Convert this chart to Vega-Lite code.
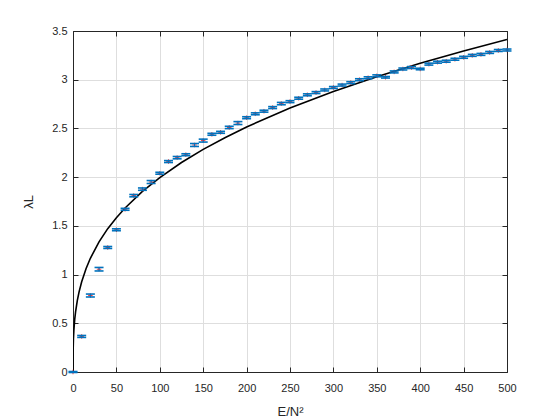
{
  "$schema": "https://vega.github.io/schema/vega-lite/v6.json",
  "width": 434,
  "height": 341,
  "autosize": {"type": "none"},
  "padding": {"left": 73, "top": 31, "right": 53, "bottom": 48},
  "background": "white",
  "datasets": {
    "curve": [
      {"x": 0, "y": 0}, {"x": 0.1, "y": 0.2}, {"x": 0.5, "y": 0.341}, {"x": 1, "y": 0.43}, {"x": 2, "y": 0.542},
      {"x": 3, "y": 0.62}, {"x": 5, "y": 0.735}, {"x": 7, "y": 0.823}, {"x": 10, "y": 0.926},
      {"x": 15, "y": 1.06}, {"x": 20, "y": 1.167}, {"x": 30, "y": 1.336}, {"x": 40, "y": 1.471},
      {"x": 50, "y": 1.584}, {"x": 60, "y": 1.683}, {"x": 80, "y": 1.853}, {"x": 100, "y": 1.996},
      {"x": 125, "y": 2.15}, {"x": 150, "y": 2.285}, {"x": 175, "y": 2.405}, {"x": 200, "y": 2.515},
      {"x": 250, "y": 2.709}, {"x": 300, "y": 2.879}, {"x": 350, "y": 3.03}, {"x": 400, "y": 3.168},
      {"x": 450, "y": 3.295}, {"x": 500, "y": 3.413}
    ],
    "pts": [
      {"x": 0, "y": 0, "e": 0.005}, {"x": 10, "y": 0.365, "e": 0.01}, {"x": 20, "y": 0.785, "e": 0.015},
      {"x": 30, "y": 1.055, "e": 0.018}, {"x": 40, "y": 1.278, "e": 0.01}, {"x": 50, "y": 1.46, "e": 0.01},
      {"x": 60, "y": 1.67, "e": 0.01}, {"x": 70, "y": 1.81, "e": 0.012}, {"x": 80, "y": 1.877, "e": 0.012},
      {"x": 90, "y": 1.95, "e": 0.015}, {"x": 100, "y": 2.04, "e": 0.01}, {"x": 110, "y": 2.16, "e": 0.01},
      {"x": 120, "y": 2.2, "e": 0.012}, {"x": 130, "y": 2.23, "e": 0.01}, {"x": 140, "y": 2.33, "e": 0.015},
      {"x": 150, "y": 2.375, "e": 0.015}, {"x": 160, "y": 2.44, "e": 0.01}, {"x": 170, "y": 2.46, "e": 0.01},
      {"x": 180, "y": 2.51, "e": 0.012}, {"x": 190, "y": 2.555, "e": 0.015}, {"x": 200, "y": 2.61, "e": 0.01},
      {"x": 210, "y": 2.65, "e": 0.01}, {"x": 220, "y": 2.677, "e": 0.01}, {"x": 230, "y": 2.714, "e": 0.01},
      {"x": 240, "y": 2.755, "e": 0.012}, {"x": 250, "y": 2.775, "e": 0.01}, {"x": 260, "y": 2.81, "e": 0.01},
      {"x": 270, "y": 2.845, "e": 0.01}, {"x": 280, "y": 2.868, "e": 0.01}, {"x": 290, "y": 2.895, "e": 0.01},
      {"x": 300, "y": 2.92, "e": 0.01}, {"x": 310, "y": 2.945, "e": 0.01}, {"x": 320, "y": 2.97, "e": 0.01},
      {"x": 330, "y": 3.0, "e": 0.01}, {"x": 340, "y": 3.02, "e": 0.01}, {"x": 350, "y": 3.04, "e": 0.01},
      {"x": 360, "y": 3.025, "e": 0.008}, {"x": 370, "y": 3.08, "e": 0.01}, {"x": 380, "y": 3.11, "e": 0.01},
      {"x": 390, "y": 3.125, "e": 0.01}, {"x": 400, "y": 3.11, "e": 0.008}, {"x": 410, "y": 3.16, "e": 0.01},
      {"x": 420, "y": 3.18, "e": 0.01}, {"x": 430, "y": 3.19, "e": 0.01}, {"x": 440, "y": 3.21, "e": 0.01},
      {"x": 450, "y": 3.23, "e": 0.01}, {"x": 460, "y": 3.25, "e": 0.01}, {"x": 470, "y": 3.26, "e": 0.01},
      {"x": 480, "y": 3.28, "e": 0.01}, {"x": 490, "y": 3.3, "e": 0.01}, {"x": 500, "y": 3.305, "e": 0.01}
    ]
  },
  "config": {
    "view": {"stroke": "#262626", "strokeWidth": 1},
    "axis": {
      "labelFont": "Liberation Sans", "titleFont": "Liberation Sans",
      "labelFontSize": 11, "titleFontSize": 13, "titleFontWeight": "normal",
      "labelColor": "#262626", "titleColor": "#262626",
      "domainColor": "#262626", "tickColor": "#262626",
      "gridColor": "#dedede", "gridWidth": 1,
      "tickSize": -5, "tickWidth": 1, "labelFlush": false
    }
  },
  "resolve": {"axis": {"x": "independent", "y": "independent"}},
  "layer": [
    {
      "data": {"name": "curve"},
      "mark": {"type": "line", "color": "black", "strokeWidth": 1.6, "clip": true},
      "encoding": {
        "x": {"field": "x", "type": "quantitative",
              "scale": {"domain": [0, 500], "nice": false, "zero": false},
              "axis": {"orient": "bottom", "values": [0,50,100,150,200,250,300,350,400,450,500], "title": "E/N²", "labelPadding": 15, "titlePadding": 12, "grid": true}},
        "y": {"field": "y", "type": "quantitative",
              "scale": {"domain": [0, 3.5], "nice": false, "zero": false},
              "axis": {"orient": "left", "values": [0,0.5,1,1.5,2,2.5,3,3.5], "format": ".1~f", "title": "λL", "labelPadding": 11, "titlePadding": 16, "grid": true}}
      }
    },
    {
      "data": {"name": "pts"},
      "mark": {"type": "point", "shape": "M-1,0L1,0M0,-1L0,1", "filled": false, "stroke": "#ff0000", "strokeWidth": 1, "size": 20, "opacity": 0.8},
      "encoding": {
        "x": {"field": "x", "type": "quantitative",
              "axis": {"orient": "top", "values": [0,50,100,150,200,250,300,350,400,450,500], "labels": false, "title": null, "grid": false}},
        "y": {"field": "y", "type": "quantitative",
              "axis": {"orient": "right", "values": [0,0.5,1,1.5,2,2.5,3,3.5], "labels": false, "title": null, "grid": false}}
      }
    },
    {
      "data": {"name": "pts"},
      "mark": {"type": "errorbar", "color": "#0072BD", "opacity": 1, "thickness": 1, "ticks": {"size": 9, "thickness": 1.6, "color": "#0072BD", "opacity": 1}, "rule": {"opacity": 1}},
      "encoding": {
        "x": {"field": "x", "type": "quantitative", "axis": null},
        "y": {"field": "y", "type": "quantitative", "axis": null},
        "yError": {"field": "e"}
      }
    }
  ]
}
